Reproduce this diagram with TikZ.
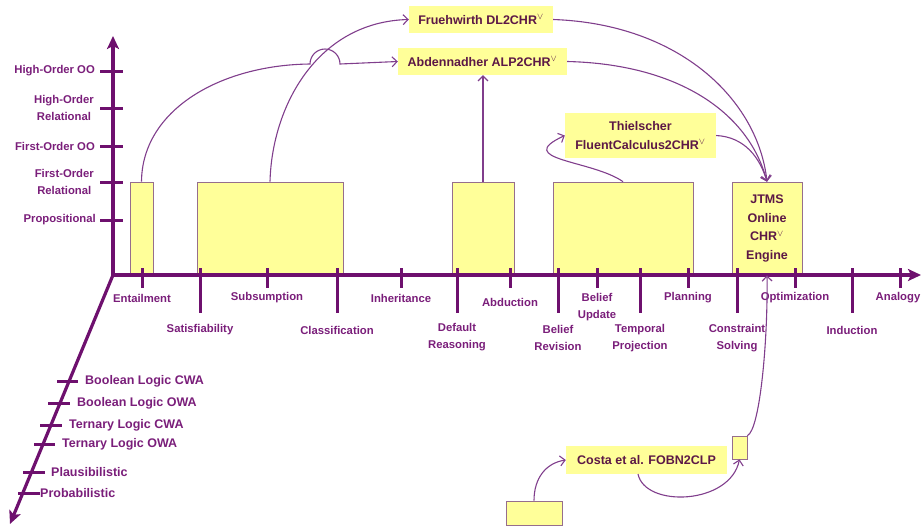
\documentclass[tikz,border=0pt]{standalone}
\usepackage{fontspec}
\setmainfont{Liberation Sans}
\usepackage{tikz}
\usetikzlibrary{arrows.meta}

\definecolor{axispurple}{RGB}{110,16,110}
\definecolor{labelpurple}{RGB}{122,30,122}
\definecolor{boxtext}{RGB}{92,24,70}
\definecolor{linkpurple}{RGB}{128,62,140}
\definecolor{boxyellow}{RGB}{255,255,153}
\definecolor{boxedge}{RGB}{150,110,140}

\tikzset{
  axisline/.style={line width=3.2pt, draw=axispurple, -{Stealth[length=13pt, width=12pt, inset=3pt]}},
  tickmark/.style={line width=3pt, draw=axispurple},
  axislabel/.style={text=labelpurple, font=\bfseries\fontsize{11.3}{17}\selectfont, align=center, inner sep=0pt},
  zlabel/.style={text=labelpurple, font=\bfseries\fontsize{12.5}{15}\selectfont, anchor=west, inner sep=0pt},
  skillbox/.style={draw=boxedge, fill=boxyellow, line width=0.7pt, inner sep=0pt},
  toolbox/.style={fill=boxyellow, text=boxtext, font=\bfseries\fontsize{12.5}{18.5}\selectfont, align=center, inner sep=0pt},
  link/.style={-{Straight Barb[length=5pt, width=10pt, line width=1.1pt]}, draw=linkpurple, line width=1.1pt},
}

\begin{document}
\begin{tikzpicture}[x=1pt,y=-1pt]
  \useasboundingbox (0,0) rectangle (922,528);

  % boxes on the axis
  \node[skillbox, minimum width=23pt, minimum height=93pt] (ent) at (141.5,228.5) {};
  \node[skillbox, minimum width=146pt, minimum height=93pt] (sub) at (270,228.5) {};
  \node[skillbox, minimum width=62pt, minimum height=93pt] (abd) at (483,228.5) {};
  \node[skillbox, minimum width=140pt, minimum height=93pt] (upd) at (623,228.5) {};
  \node[skillbox, toolbox, minimum width=70pt, minimum height=93pt] (jtms) at (767,228.5) {JTMS\\Online\\CHR$^\vee$\\Engine};

  % boxes below
  \node[skillbox, minimum width=15pt, minimum height=23pt] (small) at (739.5,447.5) {};
  \node[skillbox, minimum width=56pt, minimum height=24pt] (low) at (534,513) {};

  % tools
  \node[toolbox, minimum width=144pt, minimum height=27pt] (frue) at (481,19.5) {Fruehwirth DL2CHR$^\vee$};
  \node[toolbox, minimum width=169pt, minimum height=27pt] (alp) at (482.5,61.5) {Abdennadher ALP2CHR$^\vee$};
  \node[toolbox, minimum width=151pt, minimum height=45pt] (thiel) at (640.5,135.5) {Thielscher\\FluentCalculus2CHR$^\vee$};
  \node[toolbox, minimum width=161pt, minimum height=28pt] (costa) at (646.5,460) {Costa et al. FOBN2CLP};

  % axes
  \coordinate (origin) at (113,275);
  \draw[axisline] (origin) -- (921,275);
  \draw[axisline] (113,276.5) -- (113,36);
  \draw[axisline] (origin) -- (10,524);

  % vertical axis
  \foreach \y in {71,108,146,182,220}
    \draw[tickmark] (100,\y) -- (123,\y);
  \node[axislabel, anchor=east] (hoo) at (95,71) {High-Order OO};
  \node[axislabel, anchor=east] (hor) at (94,108) {High-Order\\Relational};
  \node[axislabel, anchor=east] (foo) at (95,146) {First-Order OO};
  \node[axislabel, anchor=east] (for) at (94,182) {First-Order\\Relational};
  \node[axislabel, anchor=east] (prop) at (96,220) {Propositional};

  % horizontal axis
  \foreach \x/\len in {142/288,200/313,267/288,337/313,401/288,457/313,510/288,558/313,597/288,640/313,688/288,737/313,795/288,852/313,900/288}
    \draw[tickmark] (\x,268) -- (\x,\len);
  \foreach \x/\y/\txt in {142/298/Entailment, 267/298/Subsumption, 401/298/Inheritance, 510/302/Abduction, 597/307/{Belief\\Update}, 688/298/Planning, 795/298/Optimization, 898/298/Analogy, 200/330/Satisfiability, 337/330/Classification, 457/337/{Default\\Reasoning}, 558/338/{Belief\\Revision}, 640/338/{Temporal\\Projection}, 737/338/{Constraint\\Solving}, 852/330/Induction}
    \node[axislabel] at (\x,\y) {\txt};

  % diagonal axis
  \foreach \y/\a/\b/\x/\txt in {381/57/78/85/Boolean Logic CWA, 403/48/70/77/Boolean Logic OWA, 425/40/62/69/Ternary Logic CWA, 444/34/55/62/Ternary Logic OWA, 472/23/45/51/Plausibilistic, 493/18/40/40/Probabilistic}
  {
    \draw[tickmark] (\a,\y) -- (\b,\y);
    \node[zlabel] at (\x,\y) {\txt};
  }

  % connectors
  \draw[link] (ent.north) .. controls (142,110) and (220,65) .. (310,64)
    arc[start angle=180, end angle=360, radius=15] -- (alp.west);
  \draw[link] (sub.north) .. controls (272,105) and (318,22) .. (frue.west);
  \draw[link] (abd.north) -- (abd.north |- alp.south);
  \draw[link] (frue.east) .. controls (680,24) and (758,100) .. (jtms.north);
  \draw[link] (alp.east) .. controls (675,64) and (748,110) .. (jtms.north);
  \draw[link] (thiel.east) .. controls (745,137) and (760,158) .. (jtms.north);
  \draw[link] (upd.north) .. controls (592,160) and (512,160) .. (thiel.west);
  \draw[link] (small.north east) .. controls (760,430) and (768,340) .. (jtms.south);
  \draw[link] (low.north) .. controls (534,478) and (546,463) .. (costa.west);
  \draw[link] (638,474) .. controls (645,508) and (730,505) .. (small.south);
\end{tikzpicture}
\end{document}
